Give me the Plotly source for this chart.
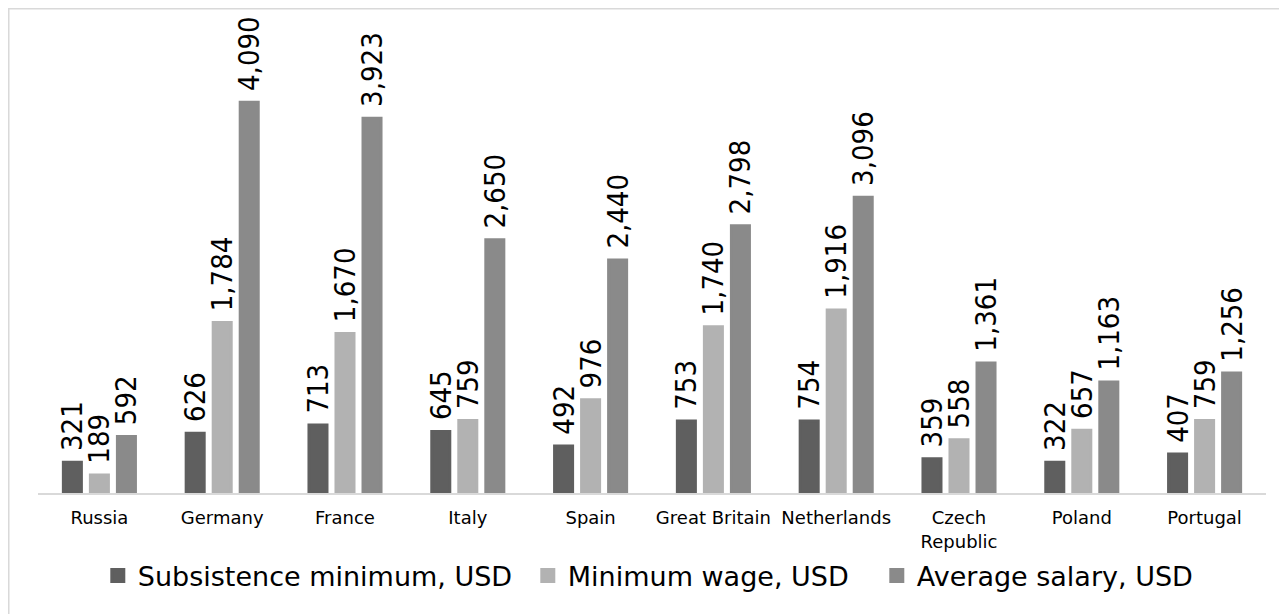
import plotly.graph_objects as go

countries = ["Russia", "Germany", "France", "Italy", "Spain", "Great Britain",
             "Netherlands", "Czech<br>Republic", "Poland", "Portugal"]
subsistence = [321, 626, 713, 645, 492, 753, 754, 359, 322, 407]
min_wage = [189, 1784, 1670, 759, 976, 1740, 1916, 558, 657, 759]
avg_salary = [592, 4090, 3923, 2650, 2440, 2798, 3096, 1361, 1163, 1256]

series = [
    ("Subsistence minimum, USD", subsistence, "#5f5f5f", 385),
    ("Minimum wage, USD", min_wage, "#b2b2b2", 304),
    ("Average salary, USD", avg_salary, "#8a8a8a", None),
]

label_font = dict(family="DejaVu Sans Condensed, DejaVu Sans", size=29, color="#000000")

fig = go.Figure()
for name, vals, color, lw in series:
    fig.add_bar(x=countries, y=vals, name=name, legendwidth=lw,
                marker=dict(color=color, line=dict(color=color, width=3)),
                texttemplate="\u00a0%{y:,.0f}", textposition="outside", textangle=-90,
                textfont=label_font, constraintext="none", cliponaxis=False)

# light frame around the chart area (page has an 8px body margin)
fig.add_shape(type="rect", xref="paper", yref="paper",
              x0=-0.0238, x1=1.2, y0=-0.5, y1=1.0785,
              line=dict(color="#d9d9d9", width=1.5), layer="below")

fig.update_layout(
    width=1279, height=606,
    margin=dict(l=30, r=21, t=36, b=121),
    plot_bgcolor="white", paper_bgcolor="white",
    barmode="group", bargap=0.34, bargroupgap=0.333,
    font=dict(family="DejaVu Sans", color="#000000"),
    showlegend=True,
    legend=dict(orientation="h", x=0.0487, xanchor="left", y=-0.185, yanchor="middle",
                font=dict(family="DejaVu Sans", size=27),
                traceorder="normal"),
    xaxis=dict(showline=True, linecolor="#d9d9d9", linewidth=1.5, ticks="",
               tickfont=dict(size=18, family="DejaVu Sans"), ticklabelstandoff=8,
               tickangle=0),
    yaxis=dict(range=[0, 4700], visible=False, showgrid=False),
)

fig.write_html("out.html")
